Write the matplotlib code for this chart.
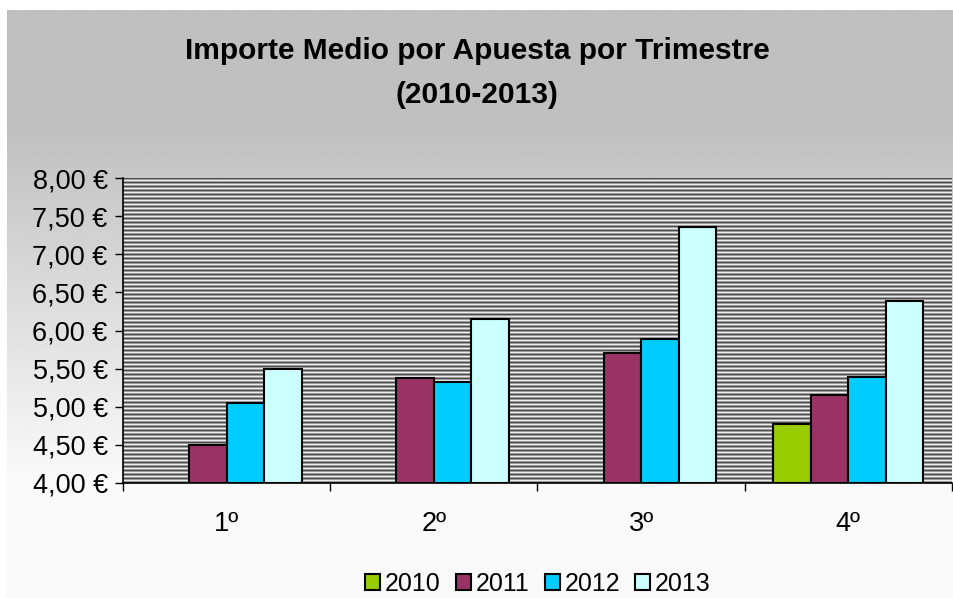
import numpy as np
import matplotlib.pyplot as plt

plt.rcParams['font.family'] = ['Liberation Sans', 'DejaVu Sans']

trimestres = ['1º', '2º', '3º', '4º']
anios = ['2010', '2011', '2012', '2013']
v2010 = [np.nan, np.nan, np.nan, 4.78]
v2011 = [4.50, 5.38, 5.70, 5.15]
v2012 = [5.05, 5.33, 5.89, 5.39]
v2013 = [5.50, 6.15, 7.36, 6.39]
colores = ['#99CC00', '#993366', '#00CCFF', '#CCFFFF']
yticks = [4.0, 4.5, 5.0, 5.5, 6.0, 6.5, 7.0, 7.5, 8.0]

fig = plt.figure(figsize=(9.54, 5.98), dpi=100)

# fondo degradado del grafico
bg = fig.add_axes([7 / 954, 0, 1 - 7 / 954, 1 - 10 / 598], zorder=-2)
h = 588
col = np.ones(h) * 0.98
y = np.arange(h)
top = 120
bottom = 470
col[:top] = 0.753
mid = (y >= top) & (y < bottom)
col[mid] = 0.753 + (0.98 - 0.753) * (y[mid] - top) / (bottom - top)
bg.imshow(np.repeat(col[:, None], 10, axis=1), cmap='gray', vmin=0, vmax=1,
          aspect='auto', interpolation='bilinear')
bg.axis('off')

ax = fig.add_axes([123 / 954, 1 - 483 / 598, (952 - 123) / 954, (483 - 178) / 598])

# trama de rayas horizontales del area de trazado
pat = np.array([0.30, 0.62, 0.92, 0.62])
rows = np.tile(pat, 80)[:305]
ax.imshow(np.repeat(rows[:, None], 10, axis=1), cmap='gray', vmin=0, vmax=1,
          aspect='auto', interpolation='nearest',
          extent=[0, 1, 0, 1], transform=ax.transAxes, zorder=0)

x = np.arange(len(trimestres))
w = 0.181
series = [v2010, v2011, v2012, v2013]
for i, (vals, c, lab) in enumerate(zip(series, colores, anios)):
    vals = np.array(vals, dtype=float)
    ax.bar(x + (i - 1.5) * w, vals - 4.0, w, bottom=4.0, color=c,
           edgecolor='black', linewidth=1.5, label=lab, zorder=3)

ax.set_xlim(-0.5, 3.5)
ax.set_ylim(4, 8)
ax.set_yticks(yticks)
ax.set_yticklabels([('%.2f' % v).replace('.', ',') + ' €' for v in yticks], fontsize=19.5)
ax.set_xticks(x)
ax.set_xticklabels(trimestres, fontsize=19.5)
ax.set_xticks(np.arange(-0.5, 4.0, 1), minor=True)
ax.tick_params(axis='x', which='major', length=0, pad=20)
ax.tick_params(axis='x', which='minor', length=6, width=1, direction='out')
ax.tick_params(axis='y', length=6, width=1, direction='out', pad=5)

for s in ['top', 'right']:
    ax.spines[s].set_visible(False)
ax.spines['left'].set_linewidth(1.2)
ax.spines['bottom'].set_linewidth(1.2)
ax.spines['left'].set_zorder(4)
ax.spines['bottom'].set_zorder(4)

fig.text(0.5, 1 - 73 / 598, 'Importe Medio por Apuesta por Trimestre\n(2010-2013)',
         ha='center', va='center', fontsize=21.5, fontweight='bold',
         linespacing=1.75)

fig.legend(loc='center', bbox_to_anchor=(538 / 954, 1 - 584 / 598), ncol=4,
           frameon=False, fontsize=18, handlelength=0.6, handleheight=0.6,
           handletextpad=0.2, columnspacing=0.6)

fig.savefig('out.png', dpi=100)
